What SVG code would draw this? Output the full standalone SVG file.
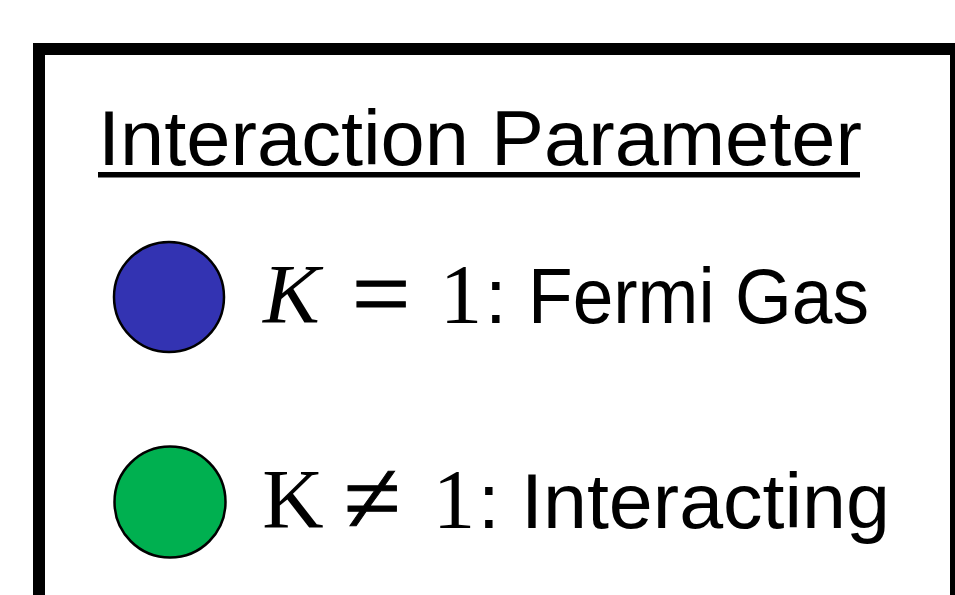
<svg xmlns="http://www.w3.org/2000/svg" width="955" height="595" viewBox="0 0 955 595">
<style>
.sans{font-family:"Liberation Sans",Arial,sans-serif;font-size:78px;fill:#000}
.math{font-family:"Liberation Serif","DejaVu Serif",serif;font-size:85px;fill:#000}
.op{font-family:"Liberation Serif","DejaVu Serif",serif;font-size:104px;fill:#000;stroke:#000;stroke-width:1}
.dot{stroke:#000;stroke-width:2.5}
</style>
<rect x="0" y="0" width="955" height="595" fill="#fff"/>
<g id="frame">
<rect x="39" y="49" width="917" height="600" fill="none" stroke="#000" stroke-width="12"/>
</g>
<g id="title">
<text class="sans" x="98" y="165" textLength="764" lengthAdjust="spacingAndGlyphs">Interaction Parameter</text>
<rect x="98" y="172" width="762" height="5.5" fill="#000"/>
</g>
<g id="legend-fermi">
<circle class="dot" cx="169" cy="297" r="55" fill="#3333B2"/>
<text class="math" x="263" y="323" font-style="italic">K</text>
<text class="op" x="381" y="329" text-anchor="middle">=</text>
<text class="math" x="461" y="323" text-anchor="middle">1</text>
<text class="sans" x="485" y="323">:</text>
<text class="sans" x="528" y="323" textLength="341" lengthAdjust="spacingAndGlyphs">Fermi Gas</text>
</g>
<g id="legend-interacting">
<circle class="dot" cx="170" cy="502" r="55.5" fill="#00B050"/>
<text class="math" x="293" y="528" text-anchor="middle">K</text>
<text class="op" x="372" y="533" text-anchor="middle">≠</text>
<text class="math" x="454" y="528" text-anchor="middle">1</text>
<text class="sans" x="478" y="528">:</text>
<text class="sans" x="521" y="528" textLength="369" lengthAdjust="spacingAndGlyphs">Interacting</text>
</g>
</svg>
